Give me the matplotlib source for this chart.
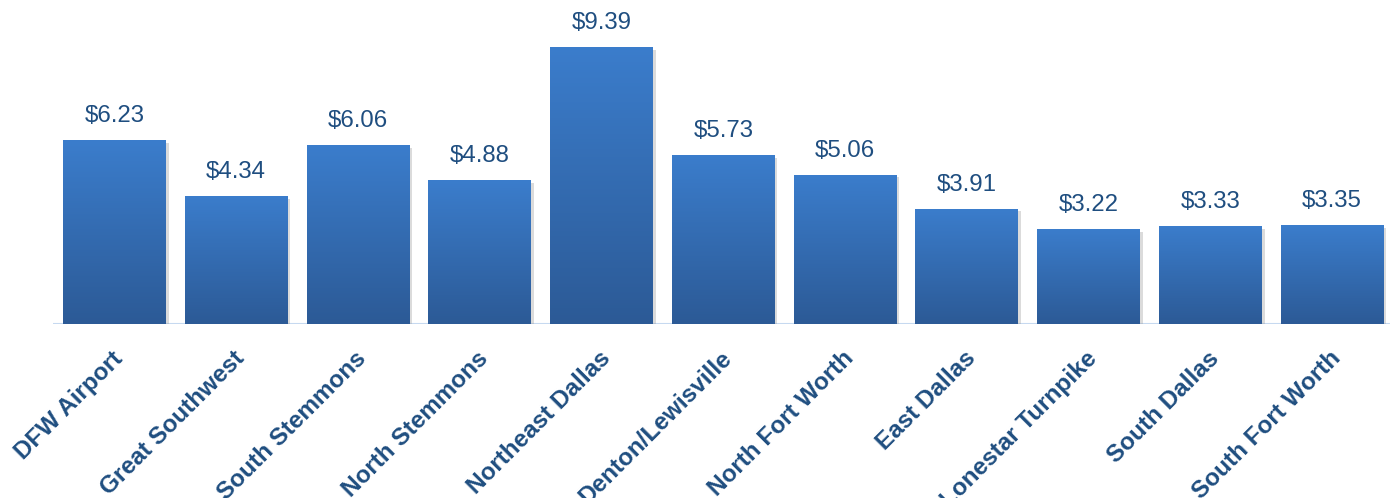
import numpy as np
import matplotlib
matplotlib.use("Agg")
import matplotlib.pyplot as plt
import matplotlib.patheffects as pe
from matplotlib.colors import LinearSegmentedColormap
import matplotlib.transforms as mtransforms

categories = ["DFW Airport", "Great Southwest", "South Stemmons", "North Stemmons",
              "Northeast Dallas", "Denton/Lewisville", "North Fort Worth", "East Dallas",
              "Lonestar Turnpike", "South Dallas", "South Fort Worth"]
values = [6.23, 4.34, 6.06, 4.88, 9.39, 5.73, 5.06, 3.91, 3.22, 3.33, 3.35]
value_labels = ["$6.23", "$4.34", "$6.06", "$4.88", "$9.39", "$5.73", "$5.06",
                "$3.91", "$3.22", "$3.33", "$3.35"]

W, H = 1390, 498
fig = plt.figure(figsize=(W / 100, H / 100), dpi=100)
ax = fig.add_axes([53 / W, (H - 324) / H, (W - 53) / W, 324 / H])

x = np.arange(len(categories))
bars = ax.bar(x, values, width=0.845, color="#3468b0", zorder=2,
              path_effects=[pe.SimplePatchShadow(offset=(2, -2), shadow_rgbFace="#999999", alpha=0.35),
                            pe.Normal()])

cmap = LinearSegmentedColormap.from_list("g", ["#2c5a96", "#3b7dcc"])
grad = np.linspace(0, 1, 256).reshape(-1, 1)
for b in bars:
    x0, w, h = b.get_x(), b.get_width(), b.get_height()
    im = ax.imshow(grad, cmap=cmap, origin="lower", aspect="auto",
                   extent=(x0, x0 + w, 0, h), zorder=3)
    im.set_clip_path(b)

ax.set_xlim(-0.505, 10.476)
ax.set_ylim(0, 10.98)
for s in ax.spines.values():
    s.set_visible(False)
ax.axhline(0, color="#c6d9f0", lw=1.5, zorder=1)
ax.set_xticks([])
ax.set_yticks([])

txtcol = "#1f4e80"
for xi, v, lab in zip(x, values, value_labels):
    ax.annotate(lab, (xi, v), xytext=(0, 13), textcoords="offset pixels",
                ha="center", va="bottom", fontsize=17.3, color=txtcol,
                family="Liberation Sans", zorder=4)

offset = mtransforms.ScaledTranslation(5 / 100, -31 / 100, fig.dpi_scale_trans)
for xi, lab in zip(x, categories):
    ax.text(xi, 0, lab, transform=ax.transData + offset, rotation=45,
            rotation_mode="anchor", ha="right", va="center", fontsize=17.5,
            fontweight="bold", color=txtcol, family="Liberation Sans", clip_on=False)

fig.savefig("out.png", dpi=100)
